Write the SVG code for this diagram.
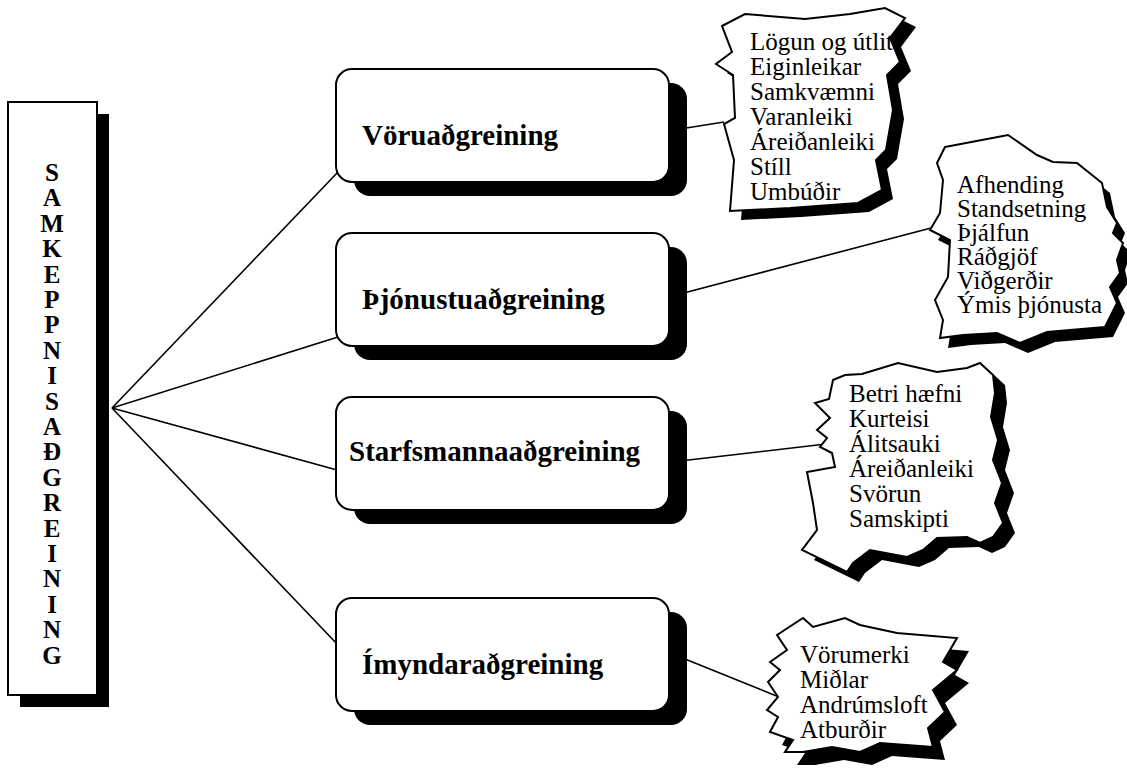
<svg xmlns="http://www.w3.org/2000/svg" width="1127" height="772" viewBox="0 0 1127 772">
  <style>
    .frame { fill: #fff; stroke: #000; stroke-width: 2; }
    .shadow { fill: #000; stroke: none; }
    .link { stroke: #000; stroke-width: 1.6; fill: none; }
    text { font-family: 'Liberation Serif', 'DejaVu Serif', serif; fill: #000; }
    .title { font-weight: bold; font-size: 29px; }
    .vert { font-weight: bold; font-size: 25px; text-anchor: middle; }
    .list { font-size: 25px; }
  </style>
  <rect width="1127" height="772" fill="#fff"/>

  <!-- connectors: hub fan-out and box-to-list links -->
  <g id="connectors">
    <line class="link" x1="112" y1="408" x2="338" y2="172"/>
    <line class="link" x1="112" y1="408" x2="338" y2="337"/>
    <line class="link" x1="112" y1="408" x2="337" y2="470"/>
    <line class="link" x1="112" y1="408" x2="338" y2="645"/>
    <line class="link" x1="680" y1="129" x2="724" y2="122"/>
    <line class="link" x1="680" y1="294" x2="931" y2="228"/>
    <line class="link" x1="680" y1="461" x2="826" y2="444"/>
    <line class="link" x1="680" y1="657" x2="779" y2="697"/>
  </g>

  <!-- vertical title column -->
  <g id="samkeppnisadgreining">
    <rect class="shadow" x="20" y="114" width="89" height="593"/>
    <rect class="frame" x="8" y="102" width="89" height="593"/>
    <text class="vert" font-family="Liberation Serif, DejaVu Serif, serif" x="52" y="181">
      <tspan x="52">S</tspan><tspan x="52" dy="25.4">A</tspan><tspan x="52" dy="25.4">M</tspan><tspan x="52" dy="25.4">K</tspan><tspan x="52" dy="25.4">E</tspan><tspan x="52" dy="25.4">P</tspan><tspan x="52" dy="25.4">P</tspan><tspan x="52" dy="25.4">N</tspan><tspan x="52" dy="25.4">I</tspan><tspan x="52" dy="25.4">S</tspan><tspan x="52" dy="25.4">A</tspan><tspan x="52" dy="25.4">Ð</tspan><tspan x="52" dy="25.4">G</tspan><tspan x="52" dy="25.4">R</tspan><tspan x="52" dy="25.4">E</tspan><tspan x="52" dy="25.4">I</tspan><tspan x="52" dy="25.4">N</tspan><tspan x="52" dy="25.4">I</tspan><tspan x="52" dy="25.4">N</tspan><tspan x="52" dy="25.4">G</tspan>
    </text>
  </g>

  <!-- category boxes -->
  <g id="voruadgreining">
    <rect class="shadow" x="354" y="83" width="333" height="113" rx="16"/>
    <rect class="frame" x="336" y="69" width="333" height="113" rx="16"/>
    <text class="title" x="362" y="145">Vöruaðgreining</text>
  </g>
  <g id="thjonustuadgreining">
    <rect class="shadow" x="354" y="247" width="333" height="113" rx="16"/>
    <rect class="frame" x="336" y="233" width="333" height="113" rx="16"/>
    <text class="title" x="362" y="309">Þjónustuaðgreining</text>
  </g>
  <g id="starfsmannaadgreining">
    <rect class="shadow" x="354" y="411" width="333" height="113" rx="16"/>
    <rect class="frame" x="336" y="397" width="333" height="113" rx="16"/>
    <text class="title" x="349" y="461">Starfsmannaaðgreining</text>
  </g>
  <g id="imyndaradgreining">
    <rect class="shadow" x="354" y="612" width="333" height="113" rx="16"/>
    <rect class="frame" x="336" y="598" width="333" height="113" rx="16"/>
    <text class="title" x="362" y="674">Ímyndaraðgreining</text>
  </g>

  <!-- jagged lists -->
  <defs>
    <path id="burst1" d="M722,26 L745,14 L805,19 L850,14 L885,8 L905,18 L890,38 L900,62 L887,75 L893,110 L886,150 L876,160 L882,190 L858,203 L790,208 L730,211 L734,160 L724,124 L735,118 L733,75 L716,64 L732,52 Z"/>
    <path id="burst2" d="M945,147 L1008,135 L1037,155 L1053,162 L1077,163 L1102,183 L1107,207 L1117,223 L1113,233 L1123,243 L1117,260 L1120,273 L1110,287 L1117,303 L1105,327 L1070,330 L1047,332 L1020,343 L997,333 L963,335 L940,338 L943,320 L935,300 L948,277 L950,240 L930,230 L940,213 L943,180 L937,163 Z"/>
    <path id="burst3" d="M833,380 L845,375 L862,374 L898,363 L937,372 L967,368 L980,363 L993,375 L995,393 L991,417 L998,440 L993,460 L1002,483 L995,503 L1003,523 L993,537 L980,543 L967,537 L937,538 L923,550 L907,557 L870,550 L853,563 L847,572 L802,550 L817,530 L813,503 L807,472 L835,467 L832,453 L820,447 L827,438 L817,430 L830,418 L815,403 L829,399 Z"/>
    <path id="burst4" d="M777,635 L803,618 L813,627 L845,618 L860,625 L897,633 L957,638 L943,662 L957,670 L933,690 L945,712 L928,728 L933,747 L880,743 L860,752 L832,747 L803,752 L785,752 L793,740 L770,732 L778,717 L767,710 L778,697 L768,682 L780,670 L770,662 L787,650 Z"/>
  </defs>

  <g id="vorueiginleikar">
    <use href="#burst1" class="shadow" transform="translate(11,9)"/>
    <use href="#burst1" class="frame"/>
    <text class="list">
      <tspan x="750" y="50">Lögun og útlit</tspan>
      <tspan x="750" y="75">Eiginleikar</tspan>
      <tspan x="750" y="100">Samkvæmni</tspan>
      <tspan x="750" y="125">Varanleiki</tspan>
      <tspan x="750" y="150">Áreiðanleiki</tspan>
      <tspan x="750" y="175">Stíll</tspan>
      <tspan x="750" y="200">Umbúðir</tspan>
    </text>
  </g>
  <g id="thjonustuthaettir">
    <use href="#burst2" class="shadow" transform="translate(8,10)"/>
    <use href="#burst2" class="frame"/>
    <text class="list">
      <tspan x="957" y="193">Afhending</tspan>
      <tspan x="957" y="217">Standsetning</tspan>
      <tspan x="957" y="241">Þjálfun</tspan>
      <tspan x="957" y="265">Ráðgjöf</tspan>
      <tspan x="957" y="289">Viðgerðir</tspan>
      <tspan x="957" y="313">Ýmis þjónusta</tspan>
    </text>
  </g>
  <g id="starfsfolksthaettir">
    <use href="#burst3" class="shadow" transform="translate(12,10)"/>
    <use href="#burst3" class="frame"/>
    <text class="list">
      <tspan x="849" y="402">Betri hæfni</tspan>
      <tspan x="849" y="427">Kurteisi</tspan>
      <tspan x="849" y="452">Álitsauki</tspan>
      <tspan x="849" y="477">Áreiðanleiki</tspan>
      <tspan x="849" y="502">Svörun</tspan>
      <tspan x="849" y="527">Samskipti</tspan>
    </text>
  </g>
  <g id="imyndarthaettir">
    <use href="#burst4" class="shadow" transform="translate(12,13)"/>
    <use href="#burst4" class="frame"/>
    <text class="list">
      <tspan x="800" y="663">Vörumerki</tspan>
      <tspan x="800" y="688">Miðlar</tspan>
      <tspan x="800" y="713">Andrúmsloft</tspan>
      <tspan x="800" y="738">Atburðir</tspan>
    </text>
  </g>
</svg>
